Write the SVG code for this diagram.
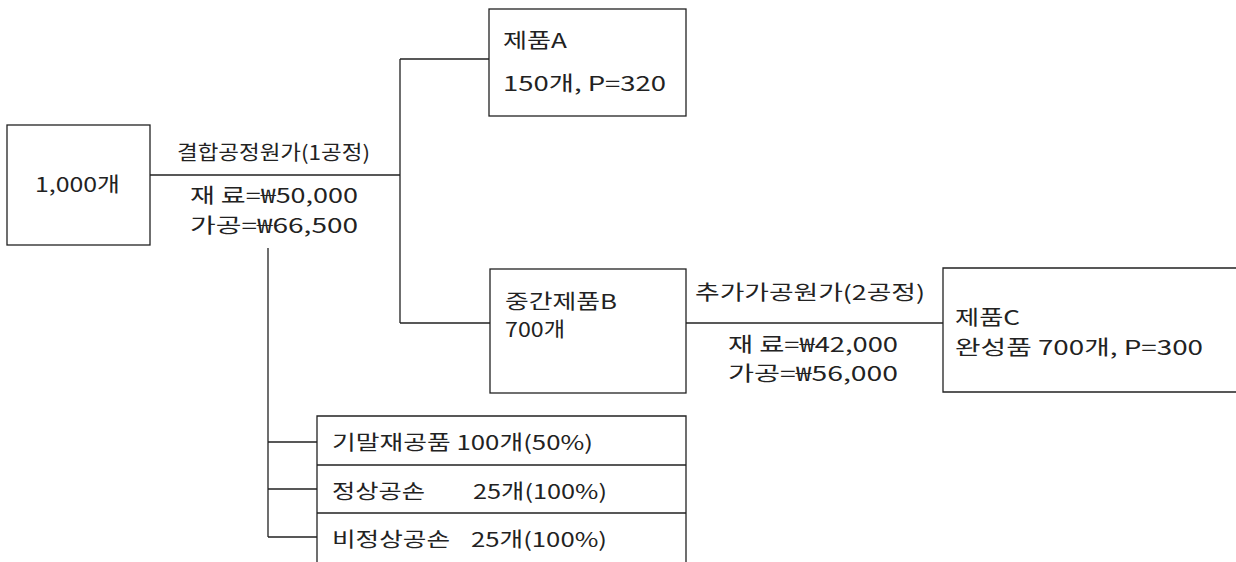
<svg xmlns="http://www.w3.org/2000/svg" width="1236" height="562" viewBox="0 0 1236 562">
<style>
.box{fill:#fff;stroke:#222;stroke-width:1.3}
.ln{fill:none;stroke:#222;stroke-width:1.3}
text{font-family:"Noto Sans CJK KR","Liberation Sans",sans-serif;font-size:20px;fill:#222}
</style>
<rect width="1236" height="562" fill="#fff"/>
<g id="connectors">
<path class="ln" d="M150,175 H400 M400,59 V323 M400,59 H489 M400,323 H490"/>
<path class="ln" d="M686,323 H943"/>
<path class="ln" d="M268,248 V537 M268,442 H317 M268,489 H317 M268,537 H317"/>
</g>
<g id="node-start">
<rect class="box" x="7" y="125" width="143" height="120"/>
<text x="35" y="192" textLength="85" lengthAdjust="spacingAndGlyphs">1,000개</text>
</g>
<g id="label-joint">
<text x="177" y="160" textLength="193" lengthAdjust="spacingAndGlyphs">결합공정원가(1공정)</text>
<text x="190" y="203" textLength="168" lengthAdjust="spacingAndGlyphs">재 료=₩50,000</text>
<text x="190" y="233" textLength="168" lengthAdjust="spacingAndGlyphs">가공=₩66,500</text>
</g>
<g id="node-A">
<rect class="box" x="489" y="9" width="197" height="107"/>
<text x="503" y="48" textLength="64" lengthAdjust="spacingAndGlyphs">제품A</text>
<text x="503" y="91" textLength="163" lengthAdjust="spacingAndGlyphs">150개, P=320</text>
</g>
<g id="node-B">
<rect class="box" x="490" y="269" width="196" height="124"/>
<text x="505" y="309" textLength="112" lengthAdjust="spacingAndGlyphs">중간제품B</text>
<text x="505" y="337" textLength="60" lengthAdjust="spacingAndGlyphs">700개</text>
</g>
<g id="label-additional">
<text x="695" y="300" textLength="230" lengthAdjust="spacingAndGlyphs">추가가공원가(2공정)</text>
<text x="728" y="352" textLength="170" lengthAdjust="spacingAndGlyphs">재 료=₩42,000</text>
<text x="728" y="381" textLength="170" lengthAdjust="spacingAndGlyphs">가공=₩56,000</text>
</g>
<g id="node-C">
<path class="box" d="M1240,268 H943 V392 H1240"/>
<text x="955" y="325" textLength="65" lengthAdjust="spacingAndGlyphs">제품C</text>
<text x="955" y="355" textLength="248" lengthAdjust="spacingAndGlyphs">완성품 700개, P=300</text>
</g>
<g id="node-table">
<path class="box" d="M317,566 V416 H686 V566"/>
<path class="ln" d="M317,465 H686 M317,513 H686"/>
<text x="332" y="450" textLength="261" lengthAdjust="spacingAndGlyphs">기말재공품 100개(50%)</text>
<text x="332" y="499" textLength="93" lengthAdjust="spacingAndGlyphs">정상공손</text>
<text x="473" y="499" textLength="134" lengthAdjust="spacingAndGlyphs">25개(100%)</text>
<text x="332" y="547" textLength="118" lengthAdjust="spacingAndGlyphs">비정상공손</text>
<text x="471" y="547" textLength="136" lengthAdjust="spacingAndGlyphs">25개(100%)</text>
</g>
</svg>
